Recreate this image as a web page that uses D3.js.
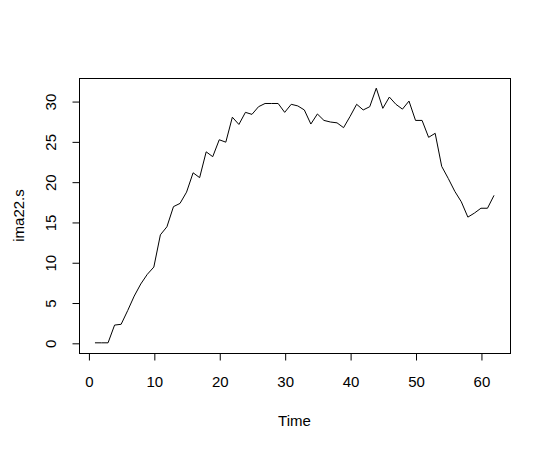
<!DOCTYPE html>
<html>
<head>
<meta charset="utf-8">
<script src="https://cdn.jsdelivr.net/npm/d3@7"></script>
<style>
  html, body { margin: 0; padding: 0; background: #fff; }
  svg { display: block; }
  text { font-family: "Liberation Sans", Arial, sans-serif; font-size: 15px; fill: #000; }
</style>
</head>
<body>
<svg id="chart" width="550" height="450"></svg>
<script>
// Data
const times = d3.range(1, 63);
const values = [
  0, 0, 0, 2.2, 2.3, 4.0, 5.8, 7.3, 8.5, 9.4,
  13.4, 14.4, 16.9, 17.3, 18.7, 21.1, 20.5, 23.7, 23.1, 25.2,
  24.9, 28.0, 27.1, 28.6, 28.35, 29.3, 29.7, 29.7, 29.7, 28.6,
  29.6, 29.4, 28.9, 27.15, 28.4, 27.6, 27.4, 27.3, 26.7, 28.1,
  29.6, 28.9, 29.3, 31.6, 29.1, 30.5, 29.6, 29.0, 30.0, 27.6,
  27.6, 25.5, 26.0, 21.9, 20.4, 18.8, 17.5, 15.6, 16.1, 16.7,
  16.7, 18.3
];
const xTicks = [0, 10, 20, 30, 40, 50, 60];
const yTicks = [0, 5, 10, 15, 20, 25, 30];
const xLabel = "Time";
const yLabel = "ima22.s";

const svg = d3.select("#chart");
const mLeft = 79, mRight = 510, mTop = 78, mBottom = 353;
const font = '"Liberation Sans", Arial, sans-serif';

const xMin = d3.min(times), xMax = d3.max(times);
const xPad = (xMax - xMin) * 0.04;
const yMin = d3.min(values), yMax = d3.max(values);
const yPad = (yMax - yMin) * 0.04;

const x = d3.scaleLinear().domain([xMin - xPad, xMax + xPad]).range([mLeft, mRight]);
const y = d3.scaleLinear().domain([yMin - yPad, yMax + yPad]).range([mBottom, mTop]);

// Line
const line = d3.line().x((d, i) => x(times[i])).y(d => y(d));
svg.append("path")
  .datum(values)
  .attr("d", line)
  .attr("fill", "none")
  .attr("stroke", "#000")
  .attr("stroke-width", 1);

// Box
svg.append("rect")
  .attr("x", mLeft + 0.5).attr("y", mTop + 0.5)
  .attr("width", mRight - mLeft).attr("height", mBottom - mTop)
  .attr("fill", "none").attr("stroke", "#000").attr("stroke-width", 1);

// X axis
const xAxis = d3.axisBottom(x).tickValues(xTicks).tickSize(7).tickPadding(16).tickFormat(d3.format("d"));
const gx = svg.append("g").attr("transform", `translate(0.5,${mBottom + 0.5})`).call(xAxis);
gx.select(".domain").attr("d", `M${x(xTicks[0])},0H${x(xTicks[xTicks.length-1])}`);
gx.selectAll("text").style("font-family", font).style("font-size", "15px").attr("fill", "#000");

// Y axis
const yAxis = d3.axisLeft(y).tickValues(yTicks).tickSize(7).tickPadding(0).tickFormat(d3.format("d"));
const gy = svg.append("g").attr("transform", `translate(${mLeft + 0.5},0.5)`).call(yAxis);
gy.select(".domain").attr("d", `M0,${y(yTicks[0])}V${y(yTicks[yTicks.length-1])}`);
gy.selectAll(".tick text")
  .attr("x", 0).attr("dy", null)
  .attr("transform", "translate(-29,0) rotate(-90)")
  .attr("text-anchor", "middle")
  .attr("dominant-baseline", "central")
  .style("font-family", font).style("font-size", "15px").attr("fill", "#000");

// Axis titles
svg.append("text")
  .attr("x", (mLeft + mRight) / 2).attr("y", 426)
  .attr("text-anchor", "middle")
  .text(xLabel);
svg.append("text")
  .attr("transform", `translate(24,${(mTop + mBottom) / 2}) rotate(-90)`)
  .attr("text-anchor", "middle")
  .text(yLabel);
</script>
</body>
</html>
